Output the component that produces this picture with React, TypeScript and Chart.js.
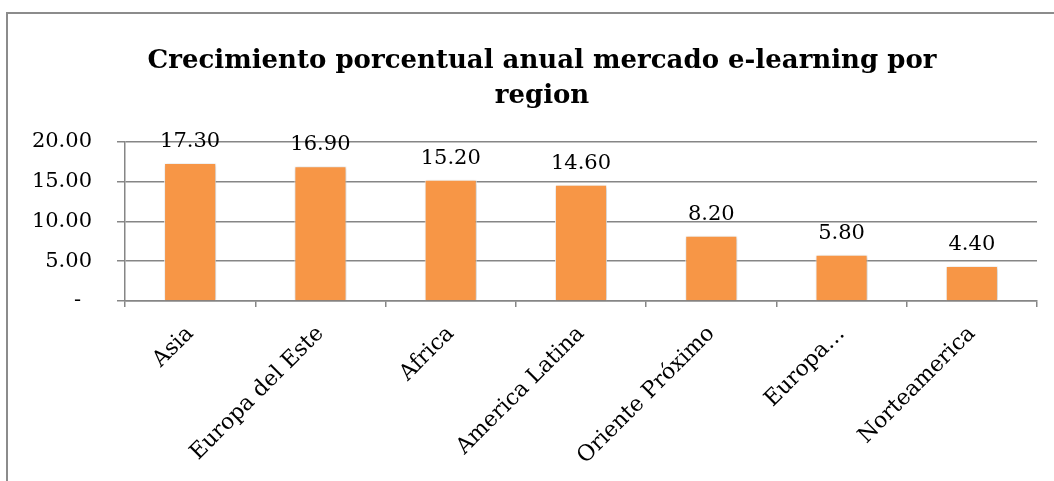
import { useEffect, useRef } from "react";
import { Chart, registerables } from "chart.js";

Chart.register(...registerables);

const regions = [
  "Asia",
  "Europa del Este",
  "Africa",
  "America Latina",
  "Oriente Próximo",
  "Europa…",
  "Norteamerica",
];
const growth = [17.3, 16.9, 15.2, 14.6, 8.2, 5.8, 4.4];
const yTicks = [0, 5, 10, 15, 20];
const titleLines = [
  "Crecimiento porcentual anual mercado e-learning por",
  "region",
];

const FONT = "'DejaVu Serif', serif";
const GRID = "#868686";

// Outer frame of the chart box (left and top edges are visible).
const framePlugin = {
  id: "frame",
  beforeDraw(chart: any) {
    const { ctx } = chart;
    ctx.save();
    ctx.strokeStyle = "#8c8c8c";
    ctx.lineWidth = 2;
    ctx.strokeRect(7, 13, chart.width + 40, chart.height + 40);
    ctx.restore();
  },
};

// Soft shadow under the bars.
const shadowPlugin = {
  id: "barShadow",
  beforeDatasetsDraw(chart: any) {
    const { ctx } = chart;
    ctx.save();
    ctx.shadowColor = "rgba(0,0,0,0.25)";
    ctx.shadowBlur = 4;
    ctx.shadowOffsetX = 1;
    ctx.shadowOffsetY = 1;
  },
  afterDatasetsDraw(chart: any) {
    chart.ctx.restore();
  },
};

// Value printed above each bar.
const valueLabelPlugin = {
  id: "valueLabels",
  afterDatasetsDraw(chart: any) {
    const { ctx } = chart;
    const meta = chart.getDatasetMeta(0);
    const data = chart.data.datasets[0].data as number[];
    ctx.save();
    ctx.font = `21px ${FONT}`;
    ctx.fillStyle = "#000";
    ctx.textAlign = "center";
    ctx.textBaseline = "alphabetic";
    meta.data.forEach((bar: any, i: number) => {
      ctx.fillText(data[i].toFixed(2), bar.x, bar.y - 16);
    });
    ctx.restore();
  },
};

// The chart box runs past the right edge of the view, so the canvas is wider
// than the visible area and the title centres on the whole box.
const CANVAS_W = 1084;
const CANVAS_H = 481;

export default function App() {
  const canvasRef = useRef<HTMLCanvasElement | null>(null);

  useEffect(() => {
    const canvas = canvasRef.current;
    if (!canvas) return;
    const chart = new Chart(canvas, {
      type: "bar",
      data: {
        labels: regions,
        datasets: [
          {
            data: growth,
            backgroundColor: "#F79646",
            borderColor: "rgba(255,255,255,0.9)",
            borderWidth: 1,
            barPercentage: 0.4,
            categoryPercentage: 1,
            yAxisID: "y",
          },
        ],
      },
      options: {
        animation: false,
        responsive: false,
        maintainAspectRatio: false,
        layout: { padding: { left: 0, right: 0, top: 0, bottom: 0 } },
        plugins: {
          legend: { display: false },
          tooltip: { enabled: false },
          title: {
            display: true,
            text: titleLines,
            color: "#000",
            font: { family: FONT, size: 26, weight: "bold", lineHeight: 1.35 },
            padding: { top: 44, bottom: 27.4 },
          },
        },
        scales: {
          x: {
            grid: {
              display: true,
              drawOnChartArea: false,
              drawTicks: true,
              tickLength: 6,
              color: GRID,
              lineWidth: 1.5,
              offset: true,
            },
            border: { display: true, color: GRID, width: 1.5 },
            ticks: {
              color: "#000",
              font: { family: FONT, size: 22 },
              maxRotation: 45,
              minRotation: 45,
              autoSkip: false,
              padding: 14,
            },
            afterFit(scale: any) {
              scale.height = 180;
            },
          },
          y: {
            min: 0,
            max: 20,
            afterBuildTicks(scale: any) {
              scale.ticks = yTicks.map((v) => ({ value: v }));
            },
            grid: {
              color: GRID,
              lineWidth: 1.5,
              tickLength: 8,
            },
            border: { display: true, color: GRID, width: 1.5 },
            ticks: {
              color: "#000",
              font: { family: FONT, size: 21 },
              padding: 25,
              callback: (v: any) =>
                Number(v) === 0 ? "- \u2009" : Number(v).toFixed(2),
            },
            afterFit(scale: any) {
              scale.width = 125;
            },
          },
          // Empty right-hand margin of the plot (nothing drawn here).
          margin: {
            type: "linear",
            position: "right",
            min: 0,
            max: 20,
            grid: { display: false, drawTicks: false },
            border: { display: false },
            ticks: { display: false },
            afterFit(scale: any) {
              scale.width = 47;
            },
          },
        },
      },
      plugins: [framePlugin, shadowPlugin, valueLabelPlugin],
    });
    return () => chart.destroy();
  }, []);

  return (
    <div
      style={{
        position: "fixed",
        left: 0,
        top: 0,
        width: 1054,
        height: 481,
        overflow: "hidden",
        background: "#fff",
      }}
    >
      <canvas
        ref={canvasRef}
        width={CANVAS_W}
        height={CANVAS_H}
        style={{ display: "block" }}
      />
    </div>
  );
}
